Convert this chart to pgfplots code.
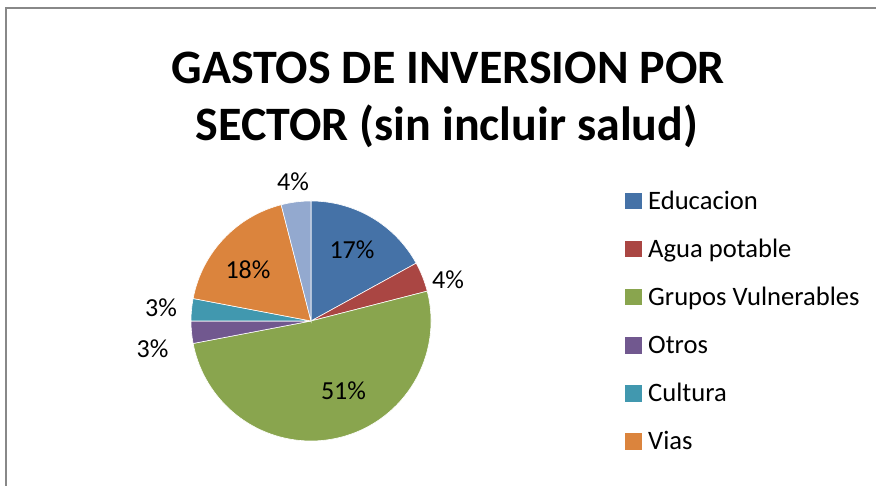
\documentclass[border=0pt]{standalone}
\usepackage{fontspec}
\setmainfont{Carlito}
\usepackage{pgfplots}
\usepackage{pgfplotstable}
\pgfplotsset{compat=1.18}

\definecolor{cEdu}{HTML}{4572A7}
\definecolor{cAgua}{HTML}{AA4643}
\definecolor{cGrupos}{HTML}{89A54E}
\definecolor{cOtros}{HTML}{71588F}
\definecolor{cCultura}{HTML}{4198AF}
\definecolor{cVias}{HTML}{DB843D}
\definecolor{cResto}{HTML}{93A9CF}
\definecolor{frame}{HTML}{888888}

\newcommand\titlefont{\fontsize{48}{58}\selectfont\bfseries}
\newcommand\lblfont{\fontsize{26}{31}\selectfont}
\newcommand\legfont{\fontsize{26.6}{32}\selectfont}

% share of each sector, label position (picture px, y down)
\pgfplotstableread[col sep=comma]{
name,value,color,lx,ly
Educacion,17,cEdu,352,250
Agua potable,4,cAgua,448,280
Grupos Vulnerables,51,cGrupos,343.5,391
Otros,3,cOtros,152.5,348.5
Cultura,3,cCultura,161,307.5
Vias,18,cVias,248,270
Resto,4,cResto,293,182
}\piedata

\begin{document}
\begin{tikzpicture}
\begin{axis}[
    x=1pt, y=1pt,
    xmin=0, xmax=876, ymin=0, ymax=486,
    hide axis,
    anchor=origin, at={(0,0)},
]
% chart frame (cut off at right and bottom)
\draw[color=frame, line width=2pt] (axis cs:6,-20) -- (axis cs:6,478) -- (axis cs:900,478);

\node[anchor=base, font=\titlefont, inner sep=0] at (axis cs:448,402) {GASTOS DE INVERSION POR};
\node[anchor=base, font=\titlefont, inner sep=0] at (axis cs:447,345) {SECTOR (sin incluir salud)};

% slices, clockwise from 12 o'clock
\def\cum{0}
\pgfplotsforeachungrouped \i in {0,...,6}{
    \pgfplotstablegetelem{\i}{value}\of\piedata \pgfmathsetmacro\sval{\pgfplotsretval}
    \pgfplotstablegetelem{\i}{color}\of\piedata \let\scol\pgfplotsretval
    \pgfplotstablegetelem{\i}{lx}\of\piedata \pgfmathsetmacro\slx{\pgfplotsretval}
    \pgfplotstablegetelem{\i}{ly}\of\piedata \pgfmathsetmacro\sly{486-\pgfplotsretval}
    \pgfmathtruncatemacro\spct{\sval}
    \pgfmathsetmacro\sa{90-3.6*\cum}
    \pgfmathsetmacro\ea{90-3.6*(\cum+\sval)}
    \pgfmathsetmacro\cum{\cum+\sval}
    \edef\temp{%
        \noexpand\filldraw[fill=\scol, draw=white, line width=0.6pt]
            (axis cs:311,165) -- ++(\sa:120pt)
            arc[start angle=\sa, end angle=\ea, radius=120pt] -- cycle;
        \noexpand\node[font=\noexpand\lblfont, inner sep=0] at (axis cs:\slx,\sly) {\spct\noexpand\%};
    }
    \temp
}

% legend (first six sectors)
\pgfplotsforeachungrouped \i in {0,...,5}{
    \pgfplotstablegetelem{\i}{name}\of\piedata \let\sname\pgfplotsretval
    \pgfplotstablegetelem{\i}{color}\of\piedata \let\scol\pgfplotsretval
    \pgfmathsetmacro\lyc{486-(201+48.1*\i)}
    \pgfmathsetmacro\lyt{\lyc+8.3}
    \pgfmathsetmacro\lyb{\lyc-8.3}
    \pgfmathsetmacro\lyl{\lyc-8.5}
    \edef\temp{%
        \noexpand\fill[\scol] (axis cs:625,\lyb) rectangle (axis cs:642,\lyt);
        \noexpand\node[anchor=base west, font=\noexpand\legfont, inner sep=0] at (axis cs:648,\lyl) {\sname};
    }
    \temp
}
\end{axis}
\pgfresetboundingbox
\useasboundingbox (0,0) rectangle (876pt,486pt);
\end{tikzpicture}
\end{document}
